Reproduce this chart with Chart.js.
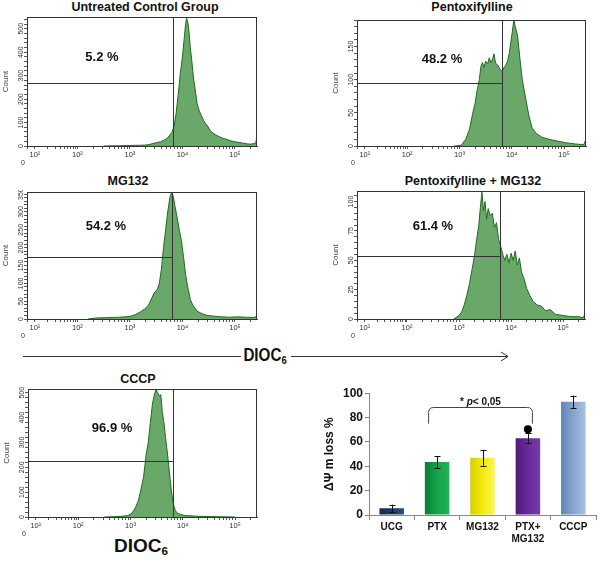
<!DOCTYPE html>
<html>
<head>
<meta charset="utf-8">
<script src="https://cdn.jsdelivr.net/npm/chart.js@4.4.1/dist/chart.umd.min.js"></script>
<style>
body { margin: 0; background: #fff; font-family: "Liberation Sans", Arial, sans-serif; }
#wrap { position: relative; width: 600px; height: 562px; overflow: hidden; background: #fff; }
canvas { position: absolute; }
.ttl { position: absolute; font-weight: bold; font-size: 12.5px; transform: translateX(-50%); white-space: nowrap; color: #111; line-height: 14px; }
.dioc { position: absolute; font-weight: bold; white-space: nowrap; color: #111; }
.dioc sub { font-size: 62%; vertical-align: -0.25em; }
</style>
</head>
<body>
<div id="wrap">
  <div class="ttl" style="left:145px;top:0px">Untreated Control Group</div>
  <div class="ttl" style="left:472px;top:0px">Pentoxifylline</div>
  <div class="ttl" style="left:128px;top:174px">MG132</div>
  <div class="ttl" style="left:473px;top:174px">Pentoxifylline + MG132</div>
  <div class="ttl" style="left:138px;top:372px">CCCP</div>
  <svg style="position:absolute;left:0;top:340px" width="600" height="32">
    <line x1="23" y1="16.5" x2="241" y2="16.5" stroke="#333" stroke-width="1"/>
    <line x1="291" y1="16.5" x2="508" y2="16.5" stroke="#333" stroke-width="1"/>
    <polyline points="501,12 508,16.5 501,21" fill="none" stroke="#333" stroke-width="1"/>
  </svg>
  <div class="dioc" style="left:265px;top:344px;font-size:19px;transform:translateX(-50%) scaleX(0.8)">DIOC<sub>6</sub></div>
  <div class="dioc" style="left:141px;top:535px;font-size:19px;transform:translateX(-50%)">DIOC<sub>6</sub></div>
</div>
<script>
// histogram data: x in decades of DIOC6 fluorescence, y = cell count
var ucgX = [2.5, 2.8, 3.0, 3.1, 3.2, 3.3, 3.4, 3.5, 3.58, 3.65, 3.71, 3.76, 3.8, 3.84, 3.88, 3.92, 3.96, 4.0, 4.03, 4.06, 4.08, 4.1, 4.12, 4.15, 4.18, 4.21, 4.25, 4.28, 4.32, 4.36, 4.4, 4.44, 4.48, 4.53, 4.58, 4.63, 4.7, 4.78, 4.85, 4.92, 5.0, 5.08, 5.16, 5.23, 5.3, 5.36, 5.4, 5.42];
var ucgY = [0, 1, 2, 3, 3, 4, 8, 14, 18, 25, 33, 47, 58, 83, 140, 220, 310, 380, 450, 520, 545, 530, 500, 420, 360, 290, 230, 180, 150, 130, 110, 95, 85, 65, 55, 48, 40, 32, 28, 22, 18, 15, 12, 9, 8, 10, 14, 55];

var ptxX = [2.9, 3.03, 3.12, 3.19, 3.25, 3.3, 3.34, 3.38, 3.41, 3.44, 3.47, 3.5, 3.54, 3.57, 3.6, 3.63, 3.66, 3.69, 3.73, 3.76, 3.79, 3.82, 3.85, 3.88, 3.92, 3.95, 3.98, 4.01, 4.04, 4.06, 4.11, 4.15, 4.2, 4.27, 4.33, 4.39, 4.47, 4.58, 4.77, 5.03, 5.22, 5.38, 5.4];
var ptxY = [0, 1, 10, 25, 48, 65, 85, 100, 120, 126, 118, 128, 124, 133, 126, 130, 139, 125, 122, 118, 114, 113, 118, 121, 128, 139, 155, 172, 190, 182, 167, 136, 101, 70, 45, 27, 19, 13, 9, 5, 3, 2, 7];

var mgX = [2.2, 2.37, 2.6, 2.8, 3.0, 3.1, 3.2, 3.28, 3.35, 3.42, 3.47, 3.52, 3.56, 3.6, 3.64, 3.68, 3.72, 3.76, 3.8, 3.83, 3.86, 3.9, 3.94, 3.98, 4.02, 4.06, 4.1, 4.15, 4.2, 4.28, 4.37, 4.47, 4.6, 4.75, 4.9, 5.05, 5.2, 5.36, 5.42];
var mgY = [0, 3, 4, 5, 7, 12, 20, 28, 38, 60, 75, 82, 100, 140, 200, 250, 300, 340, 358, 340, 315, 283, 250, 220, 175, 125, 90, 55, 38, 22, 15, 10, 8, 6, 5, 6, 5, 4, 8];

var comboX = [2.9, 3.0, 3.05, 3.1, 3.15, 3.2, 3.25, 3.3, 3.34, 3.38, 3.41, 3.44, 3.47, 3.5, 3.53, 3.56, 3.6, 3.64, 3.68, 3.72, 3.76, 3.8, 3.84, 3.88, 3.92, 3.96, 4.0, 4.04, 4.08, 4.12, 4.16, 4.2, 4.25, 4.3, 4.36, 4.42, 4.5, 4.58, 4.66, 4.75, 4.85, 5.0, 5.15, 5.3, 5.38, 5.42];
var comboY = [0, 3, 6, 12, 20, 30, 42, 55, 68, 80, 95, 108, 92, 100, 85, 94, 88, 90, 78, 82, 68, 62, 55, 50, 55, 48, 56, 50, 58, 46, 52, 40, 34, 26, 20, 15, 12, 11, 7, 8, 4, 3, 2, 2, 1, 4];

var cccpX = [2.5, 2.8, 2.95, 3.03, 3.1, 3.15, 3.2, 3.25, 3.3, 3.34, 3.38, 3.42, 3.46, 3.49, 3.52, 3.55, 3.58, 3.61, 3.64, 3.67, 3.7, 3.74, 3.78, 3.82, 3.86, 3.9, 3.96, 4.05, 4.2, 4.4, 4.7, 5.0];
var cccpY = [0, 2, 6, 15, 40, 65, 110, 160, 250, 300, 380, 455, 495, 512, 500, 488, 492, 420, 380, 320, 270, 190, 110, 50, 25, 15, 10, 6, 4, 2, 1, 0];

var gateX = [3.82, 3.82, 3.8, 3.78, 3.82];
var gateLevel = [269, 95, 174, 54, 226];
var percentText = ['5.2 %', '48.2 %', '54.2 %', '61.4 %', '96.9 %'];
var countMax = [550, 190, 356, 109, 515];
var countMajor = [[0, 100, 200, 300, 400, 500], [0, 50, 100, 150], [0, 50, 100, 150, 200, 250, 300, 350], [0, 25, 50, 75, 100], [0, 100, 200, 300, 400, 500]];
var countMinorStep = [20, 10, 10, 5, 20];
var decadeTicks = [1.04, 1.19, 2, 3, 4, 5];
var decadeLabels = ['0', '10\u00b9', '10\u00b2', '10\u00b3', '10\u2074', '10\u2075'];

// bar chart data
var barLabels = ['UCG', 'PTX', 'MG132', ['PTX+', 'MG132'], 'CCCP'];
var barValues = [5.5, 43.5, 47, 63, 93];
var barErrors = [3, 5, 6.5, 4, 5];
var sigMark = [null, null, null, 70.5, null];
var barColors = [['#132a4c', '#1d3c68', '#27507e'], ['#087a34', '#16a448', '#22b457'], ['#d6cc00', '#f2ea08', '#fbf466'], ['#4e1a7a', '#682a98', '#7c3cab'], ['#5e82b2', '#86a6cf', '#a9c2e2']];

Chart.defaults.font.family = '"Liberation Sans", Arial, sans-serif';
Chart.defaults.color = '#333';
Chart.defaults.animation = false;

var wrap = document.getElementById('wrap');

// box = [left, top, right, bottom] of the plot frame
var panels = [
  { xs: ucgX, ys: ucgY, box: [27, 17, 257, 146], fx: 0.326, fy: 0.31 },
  { xs: ptxX, ys: ptxY, box: [357, 20, 586, 146], fx: 0.371, fy: 0.31 },
  { xs: mgX, ys: mgY, box: [27, 192, 257, 319], fx: 0.343, fy: 0.268 },
  { xs: comboX, ys: comboY, box: [357, 191, 585, 319], fx: 0.333, fy: 0.273 },
  { xs: cccpX, ys: cccpY, box: [28, 389, 257, 517], fx: 0.367, fy: 0.31 }
];

var flowDecor = {
  id: 'flowDecor',
  afterDatasetsDraw: function(chart, args, o) {
    var a = chart.chartArea, ctx = chart.ctx;
    var gx = Math.round(chart.scales.x.getPixelForValue(o.gate)) + 0.5;
    var gy = Math.round(chart.scales.y.getPixelForValue(o.level)) + 0.5;
    ctx.save();
    ctx.strokeStyle = '#333';
    ctx.lineWidth = 1;
    ctx.strokeRect(a.left + 0.5, a.top + 0.5, a.right - a.left - 1, a.bottom - a.top);
    ctx.beginPath();
    ctx.moveTo(gx, a.top); ctx.lineTo(gx, a.bottom);
    ctx.moveTo(a.left, gy); ctx.lineTo(gx, gy);
    ctx.stroke();
    ctx.font = 'bold 13px "Liberation Sans", Arial, sans-serif';
    ctx.fillStyle = '#111';
    ctx.textAlign = 'center';
    ctx.textBaseline = 'middle';
    ctx.fillText(o.pct, a.left + o.fx * (a.right - a.left), a.top + o.fy * (a.bottom - a.top));
    // the zero of the biexponential axis sits below and left of the frame
    ctx.font = '7px "Liberation Sans", Arial, sans-serif';
    ctx.fillStyle = '#333';
    ctx.fillText(decadeLabels[0], a.left - 4, a.bottom + 17);
    ctx.restore();
  }
};

function makeFlow(i) {
  var p = panels[i];
  var b = p.box;
  var cv = document.createElement('canvas');
  cv.width = b[2] - b[0] + 26 + 6;
  cv.height = b[3] - b[1] + 2 + 22;
  cv.style.left = (b[0] - 26) + 'px';
  cv.style.top = (b[1] - 2) + 'px';
  wrap.appendChild(cv);

  var pts = [];
  for (var k = 0; k < p.xs.length; k++) pts.push({ x: p.xs[k], y: p.ys[k] });

  new Chart(cv, {
    type: 'line',
    data: { datasets: [{
      data: pts,
      borderColor: '#1f6b1f',
      borderWidth: 1,
      backgroundColor: '#6aa86a',
      fill: 'origin',
      pointRadius: 0,
      tension: 0
    }] },
    options: {
      responsive: false,
      layout: { padding: { top: 2, right: 6, bottom: 2, left: 0 } },
      plugins: {
        legend: { display: false },
        tooltip: { enabled: false },
        flowDecor: { gate: gateX[i], level: gateLevel[i], pct: percentText[i], fx: p.fx, fy: p.fy }
      },
      scales: {
        x: {
          type: 'linear', min: 1.04, max: 5.42,
          afterFit: function(s) { s.height = 20; },
          afterBuildTicks: function(s) {
            var t = decadeTicks.map(function(v) { return { value: v }; });
            for (var n = 1; n <= 5; n++) {
              for (var m = 2; m <= 9; m++) {
                var u = n === 1 ? 1.19 + 0.81 * Math.log10(m) : n + Math.log10(m);
                if (u < 5.42) t.push({ value: u });
              }
            }
            t.sort(function(a, c) { return a.value - c.value; });
            s.ticks = t;
          },
          ticks: {
            autoSkip: false, maxRotation: 0, padding: 1,
            font: { size: 7.5 }, color: '#333',
            callback: function(v) {
              for (var j = 1; j < decadeTicks.length; j++) if (Math.abs(decadeTicks[j] - v) < 1e-6) return decadeLabels[j];
              return '';
            }
          },
          grid: { drawOnChartArea: false, tickLength: 3, color: '#555' },
          border: { color: '#555' }
        },
        y: {
          min: 0, max: countMax[i],
          afterFit: function(s) { s.width = 26; },
          afterBuildTicks: function(s) {
            var t = [];
            for (var v = 0; v <= countMax[i]; v += countMinorStep[i]) t.push({ value: v });
            s.ticks = t;
          },
          ticks: {
            autoSkip: false, minRotation: 90, maxRotation: 90, crossAlign: 'center', padding: -3,
            font: { size: 7 }, color: '#333',
            callback: function(v) { return countMajor[i].indexOf(v) >= 0 ? String(v) : ''; }
          },
          grid: { drawOnChartArea: false, tickLength: 3, color: '#555' },
          border: { color: '#555' },
          title: { display: true, text: 'Count', font: { size: 8 }, color: '#444', padding: 0 }
        }
      }
    },
    plugins: [flowDecor]
  });
}

for (var i = 0; i < panels.length; i++) makeFlow(i);

// bar chart
function barFill(c) {
  var ch = c.chart, a = ch.chartArea;
  var base = barColors[c.dataIndex];
  if (!a || !ch.scales.x) return base[1];
  var x = ch.scales.x.getPixelForValue(c.dataIndex);
  var g = ch.ctx.createLinearGradient(x - 13, 0, x + 13, 0);
  g.addColorStop(0, base[0]);
  g.addColorStop(0.5, base[1]);
  g.addColorStop(1, base[2]);
  return g;
}

var barDecor = {
  id: 'barDecor',
  afterDatasetsDraw: function(chart) {
    var ctx = chart.ctx, xs = chart.scales.x, ys = chart.scales.y;
    ctx.save();
    ctx.strokeStyle = '#111';
    ctx.lineWidth = 1;
    for (var k = 0; k < barValues.length; k++) {
      var x = Math.round(xs.getPixelForValue(k)) + 0.5;
      var y1 = ys.getPixelForValue(barValues[k] + barErrors[k]);
      var y2 = ys.getPixelForValue(barValues[k] - barErrors[k]);
      ctx.beginPath();
      ctx.moveTo(x, y1); ctx.lineTo(x, y2);
      ctx.moveTo(x - 3, Math.round(y1) + 0.5); ctx.lineTo(x + 3, Math.round(y1) + 0.5);
      ctx.moveTo(x - 3, Math.round(y2) + 0.5); ctx.lineTo(x + 3, Math.round(y2) + 0.5);
      ctx.stroke();
    }
    // significance bracket PTX vs PTX+MG132
    var bl = xs.getPixelForValue(1) - 8.5, br = xs.getPixelForValue(3) + 4.5;
    var yb = ys.getPixelForValue(75), yt = Math.round(ys.getPixelForValue(89)) + 0.5, r = 5;
    ctx.strokeStyle = '#444';
    ctx.beginPath();
    ctx.moveTo(bl, yb);
    ctx.lineTo(bl, yt + r);
    ctx.quadraticCurveTo(bl, yt, bl + r, yt);
    ctx.lineTo(br - r, yt);
    ctx.quadraticCurveTo(br, yt, br, yt + r);
    ctx.lineTo(br, yb);
    ctx.stroke();
    var parts = [['* ', 'bold 10px "Liberation Sans", Arial, sans-serif'], ['p', 'italic bold 10px "Liberation Sans", Arial, sans-serif'], ['< 0,05', 'bold 10px "Liberation Sans", Arial, sans-serif']];
    var w = 0;
    for (var j = 0; j < parts.length; j++) { ctx.font = parts[j][1]; w += ctx.measureText(parts[j][0]).width; }
    var tx = (bl + br) / 2 - w / 2, ty = ys.getPixelForValue(92.5);
    ctx.fillStyle = '#111';
    ctx.textBaseline = 'middle';
    ctx.textAlign = 'left';
    for (j = 0; j < parts.length; j++) {
      ctx.font = parts[j][1];
      ctx.fillText(parts[j][0], tx, ty);
      tx += ctx.measureText(parts[j][0]).width;
    }
    ctx.restore();
  }
};

var bc = document.createElement('canvas');
bc.width = 278; bc.height = 178;
bc.style.left = '322px'; bc.style.top = '384px';
wrap.appendChild(bc);

new Chart(bc, {
  type: 'bar',
  data: {
    labels: barLabels,
    datasets: [
      { type: 'bar', data: barValues, backgroundColor: barFill, borderWidth: 0, barPercentage: 0.54, categoryPercentage: 1, order: 2 },
      { type: 'line', data: sigMark, showLine: false, pointRadius: 4, pointBackgroundColor: '#000', pointBorderWidth: 0, order: 1 }
    ]
  },
  options: {
    responsive: false,
    layout: { padding: { top: 7, right: 2, bottom: 7, left: 0 } },
    plugins: { legend: { display: false }, tooltip: { enabled: false } },
    scales: {
      x: {
        afterFit: function(s) { s.height = 40; },
        grid: { drawOnChartArea: false, offset: true, tickLength: 5, color: '#888' },
        border: { color: '#888' },
        ticks: { font: { size: 10, weight: 'bold' }, color: '#111', padding: 1, maxRotation: 0, autoSkip: false }
      },
      y: {
        min: 0, max: 100,
        afterFit: function(s) { s.width = 47; },
        ticks: { stepSize: 20, font: { size: 12, weight: 'bold' }, color: '#111', padding: 2 },
        grid: { drawOnChartArea: false, tickLength: 4, color: '#888' },
        border: { color: '#888' },
        title: { display: true, text: '\u0394\u03a8 m loss %', font: { size: 12, weight: 'bold' }, color: '#111', padding: 0 }
      }
    }
  },
  plugins: [barDecor]
});
</script>
</body>
</html>
